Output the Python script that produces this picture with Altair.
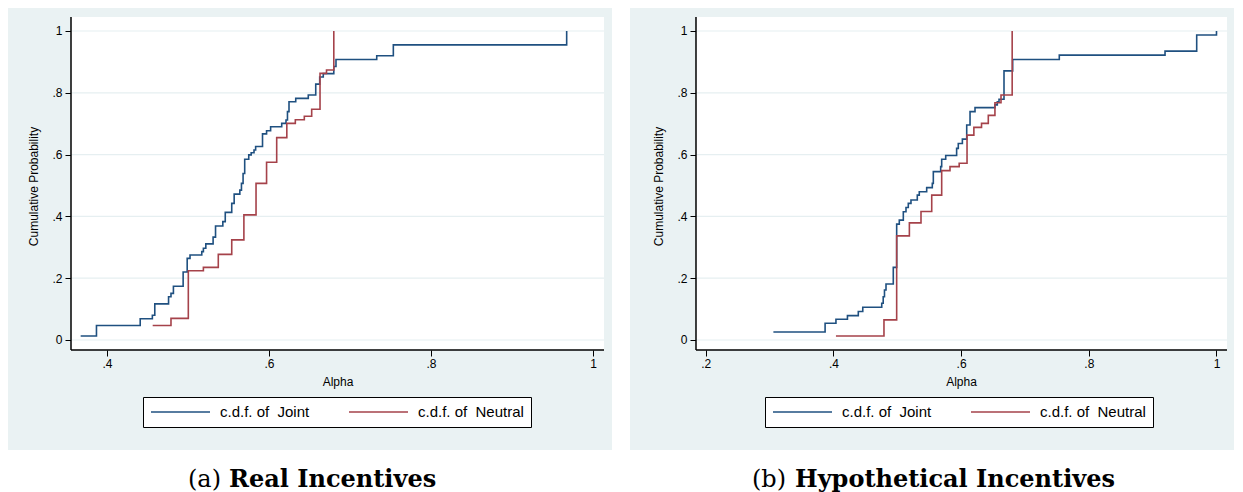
import altair as alt
import pandas as pd

# ---------------- data ----------------
joint_a_x = [0.3675, 0.387, 0.441, 0.456, 0.459, 0.476, 0.479, 0.482, 0.494, 0.499, 0.5025, 0.517, 0.519,
             0.522, 0.531, 0.534, 0.543, 0.546, 0.554, 0.557, 0.564, 0.566, 0.568, 0.570, 0.575, 0.578,
             0.5815, 0.5835, 0.592, 0.597, 0.602, 0.6157, 0.621, 0.6228, 0.6247, 0.633, 0.6485, 0.6577,
             0.6626, 0.667, 0.680, 0.6827, 0.733, 0.7535, 0.9675]
joint_a_y = [0.013, 0.047, 0.069, 0.080, 0.117, 0.140, 0.151, 0.174, 0.220, 0.264, 0.275, 0.286, 0.297,
             0.311, 0.333, 0.369, 0.383, 0.413, 0.442, 0.472, 0.485, 0.507, 0.539, 0.585, 0.599, 0.606,
             0.615, 0.626, 0.667, 0.677, 0.690, 0.701, 0.712, 0.739, 0.771, 0.782, 0.793, 0.828,
             0.851, 0.862, 0.885, 0.908, 0.920, 0.955, 1.0]
neutral_a_x = [0.4564, 0.479, 0.5004, 0.519, 0.5374, 0.554, 0.569, 0.584, 0.597, 0.6095, 0.622, 0.6325,
               0.6436, 0.6527, 0.663, 0.671, 0.680]
neutral_a_y = [0.047, 0.070, 0.224, 0.235, 0.277, 0.324, 0.405, 0.507, 0.575, 0.655, 0.701, 0.713,
               0.724, 0.747, 0.863, 0.874, 1.0]

joint_b_x = [0.306, 0.387, 0.404, 0.422, 0.439, 0.446, 0.4757, 0.478, 0.480, 0.4824, 0.4938, 0.4991,
             0.5032, 0.5095, 0.5137, 0.5173, 0.5215, 0.5314, 0.5345, 0.5461, 0.5549, 0.5565, 0.568,
             0.5696, 0.5759, 0.593, 0.5956, 0.602, 0.6088, 0.614, 0.6218, 0.653, 0.6567, 0.6594,
             0.6672, 0.6808, 0.7538, 0.9194, 0.969, 1.0]
joint_b_y = [0.026, 0.054, 0.067, 0.079, 0.092, 0.106, 0.119, 0.140, 0.162, 0.181, 0.235, 0.375,
             0.388, 0.415, 0.429, 0.442, 0.453, 0.469, 0.480, 0.493, 0.507, 0.545, 0.561,
             0.585, 0.597, 0.620, 0.636, 0.650, 0.696, 0.739, 0.752, 0.761, 0.771, 0.779,
             0.871, 0.908, 0.922, 0.935, 0.987, 1.0]
neutral_b_x = [0.404, 0.4792, 0.4991, 0.519, 0.5372, 0.554, 0.5696, 0.5826, 0.597, 0.6093, 0.620,
               0.632, 0.6426, 0.653, 0.6625, 0.680]
neutral_b_y = [0.013, 0.065, 0.337, 0.379, 0.416, 0.469, 0.548, 0.561, 0.572, 0.663, 0.688,
               0.701, 0.727, 0.768, 0.793, 1.0]

y_ticks = [0, 0.2, 0.4, 0.6, 0.8, 1.0]
x_ticks_a = [0.4, 0.6, 0.8, 1.0]
x_ticks_b = [0.2, 0.4, 0.6, 0.8, 1.0]

LAB_J = "c.d.f. of\u00a0 Joint"
LAB_N = "c.d.f. of\u00a0 Neutral"
series_names = [LAB_J, LAB_N]

# ---------------- style ----------------
BG = "#eaf2f3"
GRID = "#e6eff1"
BLUE = "#1f5080"
RED = "#a5424a"
SANS = "Liberation Sans"
SERIF = "DejaVu Serif"
W, H = 604, 442
LABEL_EXPR = "datum.value == 0 ? '0' : datum.value == 1 ? '1' : replace(format(datum.value, '.1f'), '0.', '.')"


def panel(jx, jy, nx, ny, xdom, ydom, white, xticks, left_px, cap_tag, cap_text, tag_right, text_left):
    wx0, wx1, wy0, wy1 = white
    bottom_px = 342
    xs = alt.Scale(domain=xdom, nice=False, zero=False)
    ys = alt.Scale(domain=ydom, nice=False, zero=False)
    xaxis = alt.Axis(values=xticks, labelExpr=LABEL_EXPR, offset=-(H - bottom_px), domain=False, grid=False,
                     ticks=True, tickSize=6, tickColor="black", tickWidth=1, labelFont=SANS, labelFontSize=12,
                     labelColor="black", labelPadding=2, title="Alpha", titleFont=SANS, titleFontSize=12,
                     titleFontWeight="normal", titleColor="black", titleX=(left_px + 596) / 2, titleY=31,
                     titleBaseline="middle", titleAlign="center")
    yaxis = alt.Axis(values=y_ticks, labelExpr=LABEL_EXPR, offset=-left_px, domain=False, grid=False,
                     ticks=True, tickSize=6, tickColor="black", tickWidth=1, labelFont=SANS, labelFontSize=12,
                     labelColor="black", labelPadding=3, labelAngle=0, title="Cumulative Probability",
                     titleFont=SANS, titleFontSize=12, titleFontWeight="normal", titleColor="black",
                     titleX=-38, titleY=178, titleAngle=270, titleBaseline="middle", titleAlign="center")
    X = alt.X("alpha:Q", scale=xs, axis=xaxis)
    Y = alt.Y("cdf:Q", scale=ys, axis=yaxis)

    region = pd.DataFrame({"alpha": [wx0], "alpha2": [wx1], "cdf": [wy0], "cdf2": [wy1]})
    white_rect = alt.Chart(region).mark_rect(fill="white", stroke=None).encode(x=X, x2="alpha2:Q", y=Y, y2="cdf2:Q")

    grid_df = pd.DataFrame({"cdf": y_ticks, "alpha": [wx0] * len(y_ticks), "alpha2": [wx1] * len(y_ticks)})
    grid = alt.Chart(grid_df).mark_rule(color=GRID, strokeWidth=1.2).encode(x=X, x2="alpha2:Q", y=Y)

    yline_df = pd.DataFrame({"alpha": [wx0], "cdf": [wy0], "cdf2": [wy1]})
    yline = alt.Chart(yline_df).mark_rule(color="black", strokeWidth=1.5).encode(x=X, y=Y, y2="cdf2:Q")
    xline_df = pd.DataFrame({"alpha": [wx0], "alpha2": [wx1], "cdf": [wy0]})
    xline = alt.Chart(xline_df).mark_rule(color="black", strokeWidth=1.5).encode(x=X, x2="alpha2:Q", y=Y)

    color = alt.Color("series:N", scale=alt.Scale(domain=series_names, range=[BLUE, RED]),
                      legend=alt.Legend(orient="none", legendX=135, legendY=389, direction="horizontal",
                                        title=None, symbolType="stroke", symbolSize=3481, clipHeight=16,
                                        symbolStrokeWidth=1.5, labelFont=SANS, labelFontSize=15,
                                        labelColor="black", labelOffset=9, columnPadding=38, padding=7,
                                        labelLimit=400, fillColor="white", strokeColor="black"))
    jdf = pd.DataFrame({"alpha": jx, "cdf": jy, "series": LAB_J})
    ndf = pd.DataFrame({"alpha": nx, "cdf": ny, "series": LAB_N})
    jline = alt.Chart(jdf).mark_line(interpolate="step-after", strokeWidth=1.6).encode(x=X, y=Y, color=color)
    nline = alt.Chart(ndf).mark_line(interpolate="step-after", strokeWidth=1.6).encode(x=X, y=Y, color=color)

    tag = alt.Chart(pd.DataFrame({"t": [cap_tag]})).mark_text(
        font=SERIF, fontSize=24, align="right", baseline="alphabetic", color="black"
    ).encode(text="t:N", x=alt.value(tag_right), y=alt.value(479))
    cap = alt.Chart(pd.DataFrame({"t": [cap_text]})).mark_text(
        font=SERIF, fontSize=24, fontWeight="bold", align="left", baseline="alphabetic", color="black"
    ).encode(text="t:N", x=alt.value(text_left), y=alt.value(479))

    return alt.layer(white_rect, grid, jline, nline, yline, xline, tag, cap).properties(width=W, height=H)


# panel geometry (data-unit extents of the grey panel and of the white plot region)
pa = panel(joint_a_x, joint_a_y, neutral_a_x, neutral_a_y,
           xdom=[0.27778, 1.02346], ydom=[-0.35599, 1.07443],
           white=[0.35556, 1.01358, -0.03236, 1.04531], xticks=x_ticks_a, left_px=63,
           cap_tag="(a)", cap_text="Real Incentives", tag_right=213, text_left=221)
pb = panel(joint_b_x, joint_b_y, neutral_b_x, neutral_b_y,
           xdom=[0.08144, 1.02742], ydom=[-0.35599, 1.07443],
           white=[0.1848, 1.01645, -0.03236, 1.04531], xticks=x_ticks_b, left_px=66,
           cap_tag="(b)", cap_text="Hypothetical Incentives", tag_right=156, text_left=165)

chart = alt.hconcat(pa, pb, spacing=18).resolve_scale(color="independent").resolve_legend(
    color="independent"
).properties(padding=0, background="white").configure_view(fill=BG, stroke=None)

chart.save("out.html", embed_options={"renderer": "svg", "actions": False})
